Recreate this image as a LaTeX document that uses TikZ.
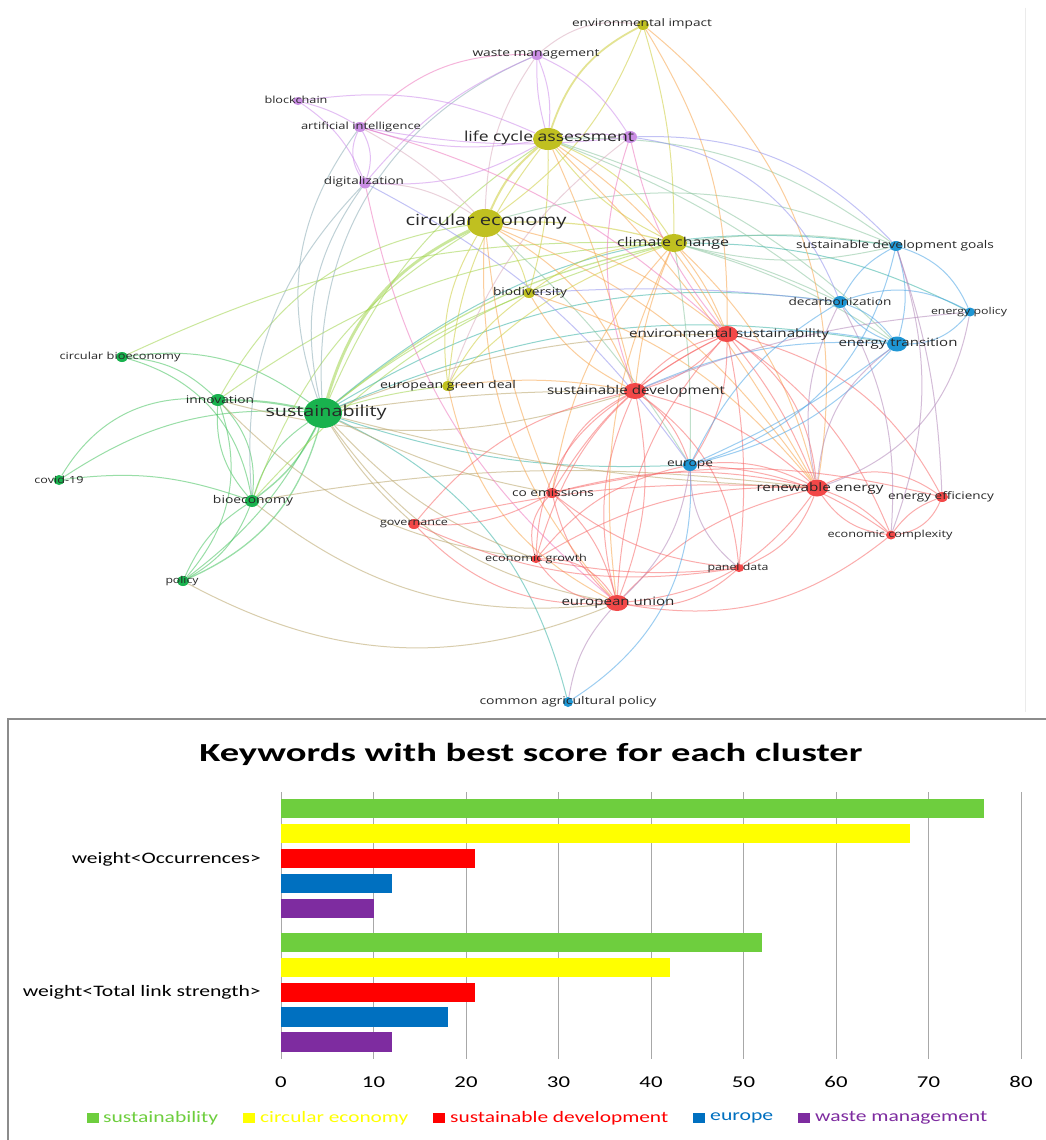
\documentclass[tikz,border=0pt]{standalone}
\usepackage{fontspec}
\usepackage{graphicx}
\setmainfont{Open Sans}
\newfontfamily\chartfont{Carlito}
\usetikzlibrary{shapes.geometric}
\pgfdeclarelayer{bgl}
\pgfdeclarelayer{edges}
\pgfsetlayers{bgl,edges,main}
\definecolor{cG}{RGB}{25,178,78}
\definecolor{cY}{RGB}{192,192,32}
\definecolor{cR}{RGB}{242,72,72}
\definecolor{cB}{RGB}{30,150,212}
\definecolor{cP}{RGB}{202,142,228}
\definecolor{labc}{RGB}{40,40,40}
\definecolor{kG}{RGB}{70,195,95}
\definecolor{kY}{RGB}{205,205,60}
\definecolor{kR}{RGB}{248,105,105}
\definecolor{kB}{RGB}{75,165,230}
\definecolor{kP}{RGB}{205,140,235}
\definecolor{kGY}{RGB}{160,212,75}
\definecolor{kRY}{RGB}{248,165,75}
\definecolor{kGR}{RGB}{185,165,105}
\definecolor{kGB}{RGB}{55,178,165}
\definecolor{kBR}{RGB}{178,135,185}
\definecolor{kBP}{RGB}{145,145,238}
\definecolor{kPR}{RGB}{238,120,190}
\definecolor{kPY}{RGB}{218,172,190}
\definecolor{kYB}{RGB}{140,198,160}
\definecolor{kPG}{RGB}{140,172,182}
\definecolor{barG}{RGB}{110,206,62}
\definecolor{barY}{RGB}{255,255,0}
\definecolor{barR}{RGB}{255,0,0}
\definecolor{barB}{RGB}{0,112,192}
\definecolor{barP}{RGB}{126,44,160}
\definecolor{gridc}{RGB}{168,168,168}
\definecolor{boxc}{RGB}{140,140,140}
\newcommand\nlab[3]{\resizebox{#2pt}{\height}{\fontsize{#1pt}{#1pt}\selectfont #3}}
\newcommand\clab[3]{\resizebox{#2pt}{\height}{\chartfont\fontsize{#1pt}{#1pt}\selectfont #3}}
\newcommand\ctick[1]{\scalebox{1.38}[1]{\chartfont\fontsize{16.5pt}{16.5pt}\selectfont #1}}
\begin{document}
\begin{tikzpicture}[x=1pt,y=-1pt,
  dot/.style={ellipse,fill=#1,inner sep=0pt},
  lab/.style={inner sep=0pt,text=labc},
  edge/.style={draw=#1,draw opacity=0.55,line width=1pt},
  eG/.style={edge=kG},eY/.style={edge=kY},eR/.style={edge=kR},eB/.style={edge=kB},eP/.style={edge=kP},
  eGY/.style={edge=kGY},eRY/.style={edge=kRY},eGR/.style={edge=kGR},eGB/.style={edge=kGB},
  eBR/.style={edge=kBR},eBP/.style={edge=kBP},ePR/.style={edge=kPR},ePY/.style={edge=kPY},
  eYB/.style={edge=kYB},ePG/.style={edge=kPG}]
\useasboundingbox (0,0) rectangle (1046,1140);
\begin{pgfonlayer}{bgl}
\fill[white] (0,0) rectangle (1046,1140);
\draw[black!8, line width=0.8pt] (1025,8) -- (1025,712);
\end{pgfonlayer}

% ---------- nodes (dots) ----------
\node[dot=cG,minimum width=38pt,minimum height=30pt] (sus) at (323,413) {};
\node[dot=cG,minimum width=15pt,minimum height=12pt] (inn) at (218,400) {};
\node[dot=cG,minimum width=12pt,minimum height=10pt] (cbe) at (122,357) {};
\node[dot=cG,minimum width=11pt,minimum height=10pt] (cov) at (59,480) {};
\node[dot=cG,minimum width=14pt,minimum height=12pt] (bio) at (252,501) {};
\node[dot=cG,minimum width=12pt,minimum height=10pt] (pol) at (183,581) {};
\node[dot=cY,minimum width=36pt,minimum height=28pt] (ce) at (485,223) {};
\node[dot=cY,minimum width=30pt,minimum height=22pt] (lca) at (548,139) {};
\node[dot=cY,minimum width=26pt,minimum height=18pt] (cc) at (674,243) {};
\node[dot=cY,minimum width=12pt,minimum height=10pt] (ei) at (643,25) {};
\node[dot=cY,minimum width=12pt,minimum height=10pt] (bd) at (529,293) {};
\node[dot=cY,minimum width=12pt,minimum height=10pt] (egd) at (448,386) {};
\node[dot=cP,minimum width=12pt,minimum height=10pt] (wm) at (537,55) {};
\node[dot=cP,minimum width=10pt,minimum height=8pt] (bc) at (298,101) {};
\node[dot=cP,minimum width=12pt,minimum height=10pt] (ai) at (360,127) {};
\node[dot=cP,minimum width=12pt,minimum height=11pt] (dig) at (365,183) {};
\node[dot=cP,minimum width=14pt,minimum height=12pt] (pu) at (630,137) {};
\node[dot=cR,minimum width=22pt,minimum height=16pt] (sd) at (635,391) {};
\node[dot=cR,minimum width=22pt,minimum height=16pt] (es) at (727,334) {};
\node[dot=cR,minimum width=22pt,minimum height=17pt] (re) at (817,488) {};
\node[dot=cR,minimum width=12pt,minimum height=10pt] (ee) at (942,497) {};
\node[dot=cR,minimum width=10pt,minimum height=9pt] (ecx) at (891,535) {};
\node[dot=cR,minimum width=10pt,minimum height=8pt] (eg) at (536,559) {};
\node[dot=cR,minimum width=10pt,minimum height=8pt] (pd) at (739,568) {};
\node[dot=cR,minimum width=22pt,minimum height=16pt] (eu) at (617,603) {};
\node[dot=cR,minimum width=12pt,minimum height=10pt] (coe) at (552,493) {};
\node[dot=cR,minimum width=12pt,minimum height=10pt] (gov) at (414,524) {};
\node[dot=cB,minimum width=14pt,minimum height=12pt] (eur) at (690,465) {};
\node[dot=cB,minimum width=13pt,minimum height=10pt] (sdg) at (896,246) {};
\node[dot=cB,minimum width=14pt,minimum height=12pt] (dec) at (840,302) {};
\node[dot=cB,minimum width=10pt,minimum height=9pt] (ep) at (970,312) {};
\node[dot=cB,minimum width=20pt,minimum height=15pt] (et) at (897,344) {};
\node[dot=cB,minimum width=10pt,minimum height=10pt] (cap) at (568,702) {};

% ---------- labels ----------
\node[lab] (l-sus) at (326,413) {\nlab{15.2}{121}{sustainability}};
\node[lab] (l-inn) at (220,400) {\nlab{10.6}{68}{innovation}};
\node[lab] (l-cbe) at (120,357) {\nlab{9.8}{121}{circular bioeconomy}};
\node[lab] (l-cov) at (59,480) {\nlab{9.8}{49}{covid-19}};
\node[lab] (l-bio) at (253,501) {\nlab{10.7}{80}{bioeconomy}};
\node[lab] (l-pol) at (182,581) {\nlab{9.5}{33}{policy}};
\node[lab] (l-ce) at (486,222) {\nlab{15.3}{161}{circular economy}};
\node[lab] (l-lca) at (549,138) {\nlab{13.8}{170}{life cycle assessment}};
\node[lab] (l-cc) at (673,243) {\nlab{12.2}{112}{climate change}};
\node[lab] (l-ei) at (642,24) {\nlab{10.4}{140}{environmental impact}};
\node[lab] (l-bd) at (530,293) {\nlab{10.7}{74}{biodiversity}};
\node[lab] (l-egd) at (448,386) {\nlab{10.7}{136}{european green deal}};
\node[lab] (l-wm) at (536,54) {\nlab{10.5}{127}{waste management}};
\node[lab] (l-bc) at (296,100) {\nlab{9.8}{63}{blockchain}};
\node[lab] (l-ai) at (361,127) {\nlab{9.9}{120}{artificial intelligence}};
\node[lab] (l-dig) at (364,182) {\nlab{10.4}{80}{digitalization}};
\node[lab] (l-sd) at (636,391) {\nlab{12}{178}{sustainable development}};
\node[lab] (l-es) at (729,334) {\nlab{11.6}{200}{environmental sustainability}};
\node[lab] (l-re) at (820,488) {\nlab{11.6}{127}{renewable energy}};
\node[lab] (l-ee) at (941,497) {\nlab{10.4}{106}{energy efficiency}};
\node[lab] (l-ecx) at (890,535) {\nlab{9.7}{125}{economic complexity}};
\node[lab] (l-eg) at (536,559) {\nlab{9.7}{102}{economic growth}};
\node[lab] (l-pd) at (738,568) {\nlab{9.6}{61}{panel data}};
\node[lab] (l-eu) at (618,603) {\nlab{11.6}{113}{european union}};
\node[lab] (l-coe) at (553,493) {\nlab{10.6}{82}{co emissions}};
\node[lab] (l-gov) at (414,524) {\nlab{9.7}{68}{governance}};
\node[lab] (l-eur) at (690,465) {\nlab{10.5}{46}{europe}};
\node[lab] (l-sdg) at (895,246) {\nlab{10.7}{198}{sustainable development goals}};
\node[lab] (l-dec) at (840,302) {\nlab{10.4}{103}{decarbonization}};
\node[lab] (l-ep) at (969,312) {\nlab{9.5}{76}{energy policy}};
\node[lab] (l-et) at (898,344) {\nlab{11.4}{119}{energy transition}};
\node[lab] (l-cap) at (568,702) {\nlab{10.6}{177}{common agricultural policy}};

% ---------- edges ----------
\begin{pgfonlayer}{edges}
% green cluster
\draw[eGY,line width=2.8pt] (sus) to[bend left=24] (ce);
\draw[eG,line width=2pt] (sus) to[bend right=6] (inn);
\draw[eG,line width=1.4pt] (sus) to[bend left=13] (bio);
\draw[eG] (sus) to[bend right=19] (bio);
\draw[eG,line width=1.3pt] (sus) to[bend left=25] (pol);
\draw[eG] (sus) to[bend left=12] (pol);
\draw[eG] (cbe) to[bend left=22] (sus);
\draw[eG] (cbe) to[bend left=19] (inn);
\draw[eG] (cbe) to[bend left=32] (bio);
\draw[eGY] (cbe) to[bend left=13] (cc);
\draw[eG] (inn) to[bend right=32] (cov);
\draw[eG] (cov) to[bend left=18] (sus);
\draw[eG] (cov) to[bend left=13] (bio);
\draw[eG] (inn) to[bend left=24] (bio);
\draw[eG] (inn) to[bend right=22] (bio);
\draw[eG] (inn) to[bend left=30] (pol);
\draw[eG] (bio) to[bend left=19] (pol);
\draw[eG] (bio) to[bend right=16] (pol);
\draw[eGY] (inn) to[bend left=26] (ce);
\draw[eGY] (inn) to[bend left=16] (cc);
\draw[eGR] (inn) to[bend right=16] (sd);
\draw[eGR] (inn) to[bend right=19] (eg);
\draw[eGY] (bio) to[bend left=19] (ce);
\draw[eGY] (bio) to[bend left=16] (cc);
\draw[eGR] (bio) to[bend right=22] (eu);
\draw[eGR] (bio) to[bend left=8] (re);
\draw[eGR] (pol) to[bend right=25] (eu);
\draw[eGY] (sus) to[bend left=16] (lca);
\draw[eGY,line width=1.3pt] (sus) to[bend left=13] (cc);
\draw[eGY] (sus) to[bend left=8] (bd);
\draw[eGY] (sus) to[bend left=5] (egd);
\draw[eGB] (sus) to[bend left=24] (sdg);
\draw[eGR] (sus) to[bend left=10] (es);
\draw[eGR] (sus) to[bend left=4] (sd);
\draw[eGB] (sus) to[bend right=10] (eur);
\draw[eGB] (sus) to[bend left=25] (cap);
\draw[eGR] (sus) to[bend right=22] (eu);
\draw[eGR] (sus) to[bend right=13] (eg);
\draw[eGR] (sus) to[bend right=8] (coe);
\draw[eGR] (sus) to[bend right=8] (gov);
\draw[eGR] (sus) to[bend right=6] (re);
\draw[eGB] (sus) to[bend left=16] (et);
\draw[eGB] (sus) to[bend left=19] (dec);
\draw[ePG] (dig) to[bend right=24] (sus);
\draw[ePG] (ai) to[bend right=28] (sus);
\draw[ePG] (wm) to[bend right=35] (sus);
\draw[ePG] (dig) to[bend right=24] (bio);
% yellow cluster
\draw[eY,line width=2pt] (ce) to[bend left=13] (lca);
\draw[eY,line width=1.8pt] (lca) to[bend left=22] (ei);
\draw[eY] (ce) to[bend right=16] (ei);
\draw[eY,line width=1.2pt] (ce) to[bend left=8] (cc);
\draw[eY] (ce) to[bend left=16] (bd);
\draw[eY] (ce) to[bend right=19] (egd);
\draw[ePY] (ce) to[bend left=16] (wm);
\draw[eRY] (ce) to[bend left=19] (sd);
\draw[eRY] (ce) to[bend left=13] (es);
\draw[eRY] (ce) to[bend left=16] (re);
\draw[eRY] (ce) to[bend right=22] (eu);
\draw[eRY] (ce) to[bend right=8] (coe);
\draw[eYB] (ce) to[bend left=8] (eur);
\draw[eYB] (ce) to[bend left=19] (sdg);
\draw[ePY] (ce) to[bend right=16] (dig);
\draw[ePY] (ce) to[bend right=8] (ai);
\draw[eY] (lca) to[bend left=16] (cc);
\draw[eY] (lca) to[bend right=13] (cc);
\draw[eP] (lca) to[bend right=13] (wm);
\draw[eP] (lca) to[bend left=8] (wm);
\draw[eP] (lca) to[bend right=16] (bc);
\draw[eP] (lca) to[bend left=13] (ai);
\draw[eP] (lca) to[bend left=16] (dig);
\draw[eP] (lca) to[bend left=8] (pu);
\draw[eY] (lca) to[bend left=8] (bd);
\draw[eY] (lca) to[bend right=16] (egd);
\draw[eYB] (lca) to[bend left=13] (et);
\draw[eYB] (lca) to[bend left=8] (dec);
\draw[eYB] (lca) to[bend left=19] (sdg);
\draw[eRY] (lca) to[bend left=8] (re);
\draw[eRY] (lca) to[bend left=13] (es);
\draw[eRY] (lca) to[bend left=5] (sd);
\draw[eYB] (cc) to[bend left=8] (sdg);
\draw[eYB] (cc) to[bend right=13] (sdg);
\draw[eYB] (cc) to[bend left=8] (et);
\draw[eYB] (cc) to[bend left=5] (dec);
\draw[eRY] (cc) to[bend left=16] (re);
\draw[eRY] (cc) to[bend left=8] (es);
\draw[eY] (cc) to[bend right=16] (bd);
\draw[eY] (cc) to[bend right=13] (egd);
\draw[eRY] (cc) to[bend right=8] (sd);
\draw[eRY] (cc) to[bend right=16] (coe);
\draw[eRY] (cc) to[bend right=16] (eu);
\draw[eYB] (cc) to[bend left=5] (eur);
\draw[eGB] (cc) to[bend left=13] (ep);
\draw[eRY] (ei) to[bend left=16] (es);
\draw[eRY] (ei) to[bend left=30] (re);
\draw[eY] (ei) to[bend left=8] (cc);
\draw[ePY] (ei) to[bend right=24] (wm);
\draw[eRY] (egd) to[bend right=25] (eu);
\draw[eRY] (egd) to[bend left=8] (sd);
\draw[eRY] (bd) to[bend right=16] (sd);
\draw[eRY] (bd) to[bend left=16] (re);
\draw[eY] (bd) to[bend right=13] (egd);
\draw[eBP] (bd) to[bend left=5] (dec);
% purple cluster
\draw[ePR] (wm) to[bend right=24] (ai);
\draw[eP] (wm) to[bend left=16] (pu);
\draw[eP] (wm) to[bend right=13] (dig);
\draw[eP] (bc) to[bend left=8] (ai);
\draw[eP] (bc) to[bend left=16] (dig);
\draw[eP] (ai) to[bend right=30] (dig);
\draw[eP] (ai) to[bend left=24] (dig);
\draw[eP] (ai) to[bend right=8] (pu);
\draw[ePR] (ai) to[bend left=13] (es);
\draw[eBP] (dig) to[bend left=13] (eur);
\draw[ePR] (dig) to[bend right=19] (eu);
\draw[ePR] (pu) to[bend right=13] (es);
\draw[eBP] (pu) to[bend left=24] (sdg);
\draw[ePY] (pu) to[bend right=16] (egd);
\draw[ePR] (pu) to[bend right=19] (sd);
\draw[eBP] (pu) to[bend left=30] (dec);
% red cluster
\draw[eR] (sd) to[bend left=16] (eu);
\draw[eR] (sd) to[bend right=19] (eu);
\draw[eR] (sd) to[bend right=24] (coe);
\draw[eR] (sd) to[bend right=28] (eg);
\draw[eR] (sd) to[bend left=16] (eur);
\draw[eR] (sd) to[bend left=13] (re);
\draw[eR] (sd) to[bend left=24] (pd);
\draw[eR] (sd) to[bend right=16] (es);
\draw[eR] (sd) to[bend left=16] (es);
\draw[eR] (gov) to[bend left=19] (sd);
\draw[eR] (es) to[bend left=24] (re);
\draw[eR] (es) to[bend left=8] (re);
\draw[eR] (es) to[bend left=16] (eur);
\draw[eR] (es) to[bend right=24] (eg);
\draw[eR] (es) to[bend right=19] (eu);
\draw[eR] (es) to[bend left=8] (pd);
\draw[eR] (es) to[bend right=16] (coe);
\draw[eR] (es) to[bend left=24] (ee);
\draw[eR] (es) to[bend left=16] (ecx);
\draw[eR] (re) to[bend left=30] (ee);
\draw[eR] (re) to[bend right=24] (ecx);
\draw[eR] (re) to[bend left=13] (ecx);
\draw[eR] (re) to[bend left=24] (eu);
\draw[eR] (re) to[bend right=16] (eu);
\draw[eR] (re) to[bend right=16] (eg);
\draw[eR] (re) to[bend right=13] (coe);
\draw[eR] (re) to[bend left=24] (pd);
\draw[eR] (re) to[bend right=16] (eur);
\draw[eR] (re) to[bend right=8] (gov);
\draw[eR] (ee) to[bend left=30] (ecx);
\draw[eR] (ee) to[bend right=16] (ecx);
\draw[eR] (ecx) to[bend left=24] (eu);
\draw[eR] (ecx) to[bend right=16] (eur);
\draw[eR] (eu) to[bend left=24] (eg);
\draw[eR] (eu) to[bend right=30] (eg);
\draw[eR] (eu) to[bend left=16] (coe);
\draw[eR] (eu) to[bend right=16] (coe);
\draw[eR] (eu) to[bend right=24] (pd);
\draw[eBR] (eu) to[bend right=19] (eur);
\draw[eR] (eu) to[bend left=24] (gov);
\draw[eBR] (cap) to[bend left=16] (eu);
\draw[eR] (eg) to[bend left=30] (coe);
\draw[eR] (eg) to[bend right=8] (pd);
\draw[eR] (eg) to[bend left=19] (eur);
\draw[eR] (coe) to[bend left=16] (gov);
\draw[eR] (coe) to[bend right=16] (pd);
\draw[eR] (coe) to[bend left=13] (ee);
\draw[eR] (gov) to[bend right=16] (pd);
% blue cluster
\draw[eB] (eur) to[bend right=16] (et);
\draw[eB] (eur) to[bend right=6] (et);
\draw[eB] (eur) to[bend left=16] (dec);
\draw[eB] (eur) to[bend right=30] (sdg);
\draw[eB] (eur) to[bend left=30] (cap);
\draw[eBR] (eur) to[bend right=24] (pd);
\draw[eB] (dec) to[bend left=16] (sdg);
\draw[eB] (dec) to[bend right=16] (et);
\draw[eB] (dec) to[bend left=16] (et);
\draw[eB] (dec) to[bend left=24] (ep);
\draw[eBR] (dec) to[bend right=19] (re);
\draw[eBR] (dec) to[bend left=16] (ecx);
\draw[eB] (et) to[bend right=24] (ep);
\draw[eB] (et) to[bend right=16] (sdg);
\draw[eB] (sdg) to[bend left=24] (ep);
\draw[eBR] (ep) to[bend left=30] (re);
\draw[eBR] (et) to[bend right=24] (re);
\draw[eBR] (sdg) to[bend left=19] (ecx);
\draw[eBR] (sdg) to[bend left=8] (ee);
\draw[eB] (es) to[bend left=8] (et);
\draw[eB] (sd) to[bend left=13] (et);
\draw[eBR] (sd) to[bend left=8] (ep);
\end{pgfonlayer}

% ---------- bar chart ----------
\draw[boxc,line width=1.3pt] (1060,719) -- (8,719) -- (8,1150);
\node[inner sep=0pt] (title) at (531,754)
  {\resizebox{663pt}{\height}{\chartfont\bfseries\fontsize{26pt}{26pt}\selectfont Keywords with best score for each cluster}};
\foreach \k in {0,...,8}{
  \draw[gridc,line width=0.9pt] (281+92.5*\k,792) -- (281+92.5*\k,1059);
  \pgfmathtruncatemacro{\v}{10*\k}
  \node[inner sep=0pt] (tick\k) at (281+92.5*\k,1082) {\ctick{\v}};
}
\fill[barG] (281,799) rectangle (984,818.4);
\fill[barY] (281,823.7) rectangle (910,843.3);
\fill[barR] (281,849) rectangle (475.3,868.4);
\fill[barB] (281,874) rectangle (392,893.4);
\fill[barP] (281,899) rectangle (373.5,918.4);
\fill[barG] (281,933) rectangle (762,952.4);
\fill[barY] (281,958) rectangle (669.5,977.4);
\fill[barR] (281,983) rectangle (475.3,1002.4);
\fill[barB] (281,1007.4) rectangle (447.5,1026.7);
\fill[barP] (281,1032.4) rectangle (392,1051.7);
\node[inner sep=0pt,anchor=east] (cat1) at (261,859) {\clab{16}{189}{weight<Occurrences>}};
\node[inner sep=0pt,anchor=east] (cat2) at (261,992) {\clab{16}{238}{weight<Total link strength>}};
% legend
\fill[barG] (87,1113) rectangle (99,1123);
\node[inner sep=0pt,anchor=west,text=barG] (lg1) at (103,1118) {\clab{16}{115}{sustainability}};
\fill[barY] (243,1113) rectangle (255,1123);
\node[inner sep=0pt,anchor=west,text=barY] (lg2) at (260,1118) {\clab{16}{148}{circular economy}};
\fill[barR] (433,1113) rectangle (445,1123);
\node[inner sep=0pt,anchor=west,text=barR] (lg3) at (450,1118) {\clab{16}{218}{sustainable development}};
\fill[barB] (693,1113) rectangle (705,1123);
\node[inner sep=0pt,anchor=west,text=barB] (lg4) at (710,1118) {\clab{16}{63}{europe}};
\fill[barP] (798,1113) rectangle (810,1123);
\node[inner sep=0pt,anchor=west,text=barP] (lg5) at (815,1118) {\clab{16}{172}{waste management}};
\end{tikzpicture}
\end{document}
